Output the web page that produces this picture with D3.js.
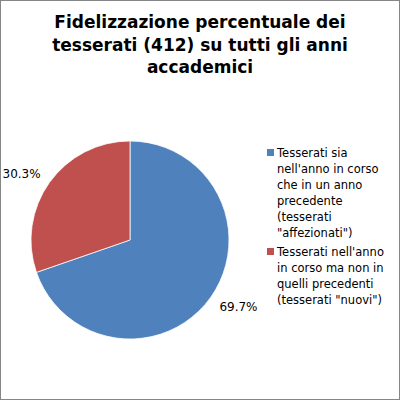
<!DOCTYPE html>
<html>
<head>
<meta charset="utf-8">
<script src="https://cdn.jsdelivr.net/npm/d3@7"></script>
<style>
  body { margin: 0; background: #fff; }
</style>
</head>
<body>
<div class="chart-container"></div>
<script>
// data
var categories = [
    'Tesserati sia nell\'anno in corso che in un anno precedente (tesserati "affezionati")',
    'Tesserati nell\'anno in corso ma non in quelli precedenti (tesserati "nuovi")'
];
var values = [69.7, 30.3];
var valueLabels = ["69.7%", "30.3%"];
var legendLines = [
    ["Tesserati sia", "nell'anno in corso", "che in un anno", "precedente", "(tesserati", "\"affezionati\")"],
    ["Tesserati nell'anno", "in corso ma non in", "quelli precedenti", "(tesserati \"nuovi\")"]
];
var titleLines = ["Fidelizzazione percentuale dei", "tesserati (412) su tutti gli anni", "accademici"];
var colors = ["#4F81BD", "#C0504D"];

draw();

function draw() {
    var width = 400, height = 400;
    var svg = d3.select(".chart-container").append("svg")
        .attr("width", width)
        .attr("height", height)
        .style("font-family", "'DejaVu Sans', Verdana, sans-serif");

    // chart area frame
    svg.append("rect")
        .attr("x", 0.5).attr("y", 0.5)
        .attr("width", width - 1).attr("height", height - 1)
        .attr("fill", "#fff")
        .attr("stroke", "#868686");

    // title
    svg.append("text")
        .attr("text-anchor", "middle")
        .attr("font-size", "17px")
        .attr("font-weight", "bold")
        .attr("fill", "#000")
        .selectAll("tspan")
        .data(titleLines)
        .enter().append("tspan")
            .attr("x", 200)
            .attr("y", function (d, i) { return 28 + i * 22.5; })
            .text(function (d) { return d; });

    var cx = 130, cy = 240, r = 99;
    var g = svg.append("g").attr("transform", "translate(" + cx + "," + cy + ")");

    var pie = d3.pie().sort(null).value(function (d) { return d; });
    var arcs = pie(values);
    var arc = d3.arc().innerRadius(0).outerRadius(r);
    var labelArc = d3.arc().innerRadius(r + 28).outerRadius(r + 28);

    g.selectAll("path")
        .data(arcs)
        .enter().append("path")
            .attr("d", arc)
            .attr("fill", function (d, i) { return colors[i]; })
            .attr("stroke", "#fff")
            .attr("stroke-width", 0.75);

    // labels sit "outside end", nudged a bit toward the horizontal like Excel does
    g.selectAll("text.lbl")
        .data(arcs)
        .enter().append("text")
            .attr("class", "lbl")
            .attr("transform", function (d) {
                var c = labelArc.centroid(d);
                var sx = c[0] > 0 ? 1 : -1, sy = c[1] > 0 ? 1 : -1;
                return "translate(" + (c[0] + sx * 5) + "," + (c[1] - sy * 7) + ")";
            })
            .attr("dy", "0.35em")
            .attr("text-anchor", "middle")
            .attr("font-size", "12px")
            .attr("fill", "#000")
            .text(function (d, i) { return valueLabels[i]; });

    // legend
    var legY = [157, 256];
    var legend = svg.selectAll("g.leg")
        .data(categories)
        .enter().append("g")
            .attr("class", "leg");

    legend.append("rect")
        .attr("x", 267)
        .attr("y", function (d, i) { return legY[i] - 8; })
        .attr("width", 7).attr("height", 7)
        .attr("fill", function (d, i) { return colors[i]; });

    legend.append("text")
        .attr("font-size", "11.5px")
        .attr("fill", "#000")
        .each(function (d, i) {
            d3.select(this).selectAll("tspan")
                .data(legendLines[i])
                .enter().append("tspan")
                    .attr("x", 277)
                    .attr("y", function (t, j) { return legY[i] + j * 16; })
                    .text(function (t) { return t; });
        });
}
</script>
</body>
</html>
